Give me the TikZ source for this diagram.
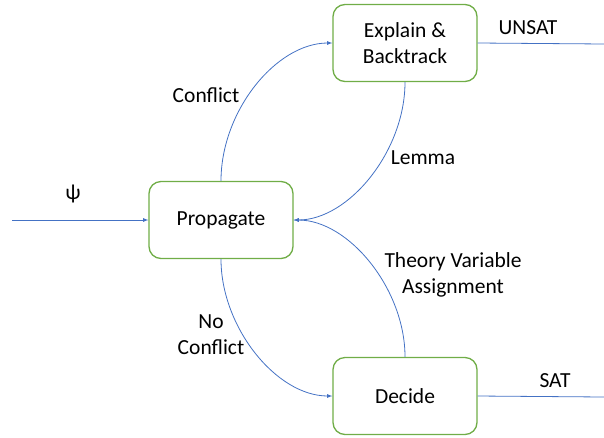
\documentclass[tikz,border=0pt]{standalone}
\usepackage{fontspec}
\setmainfont{Carlito}
\usetikzlibrary{positioning}
\definecolor{boxgreen}{RGB}{112,173,71}
\definecolor{lineblue}{RGB}{68,114,196}

\begin{document}
\begin{tikzpicture}[-latex, x=1pt, y=-1pt, inner sep=0pt,
      font=\fontsize{21.5}{26}\selectfont,
      state/.style={rectangle, rounded corners=12pt, draw=boxgreen, line width=1.3pt,
        minimum width=144pt, minimum height=77pt, align=center},
      conn/.style={draw=lineblue, line width=0.8pt},
      lbl/.style={align=center}]
      \useasboundingbox (0,0) rectangle (604,437);
      % boxes
      \node[state] (prop) at (221,220) {Propagate};
      \node[state] (expl) at (405,43) {Explain \&\\Backtrack};
      \node[state] (dec) at (405,396) {Decide};
      % input and outputs
      \coordinate (in) at (12,220);
      \coordinate (unsat) at (604,44);
      \coordinate (sat) at (604,397);
      \draw[conn] (in) -- (prop.west);
      \node[lbl] (psi) at (73,194) {ψ};
      \draw[conn,-] (expl.east) -- (unsat);
      \node[lbl] (unsatlbl) at (528,28) {UNSAT};
      \draw[conn,-] (dec.east) -- (sat);
      \node[lbl] (satlbl) at (555,381) {SAT};
      % loops
      \draw[conn] (prop.north) .. controls +(0,-70) and +(-56,0) .. (expl.west);
      \node[lbl] (conflict) at (206,95) {Conflict};
      \draw[conn] (expl.south) .. controls +(0,69) and +(55,0) .. (prop.east);
      \node[lbl] (lemma) at (423,158) {Lemma};
      \draw[conn] (prop.south) .. controls +(0,68) and +(-56,0) .. (dec.west);
      \node[lbl] (noconflict) at (211,335) {No\\Conflict};
      \draw[conn] (dec.north) .. controls +(0,-68) and +(55,0) .. (prop.east);
      \node[lbl] (theory) at (453,275) {Theory Variable\\Assignment};
  \end{tikzpicture}
\end{document}
